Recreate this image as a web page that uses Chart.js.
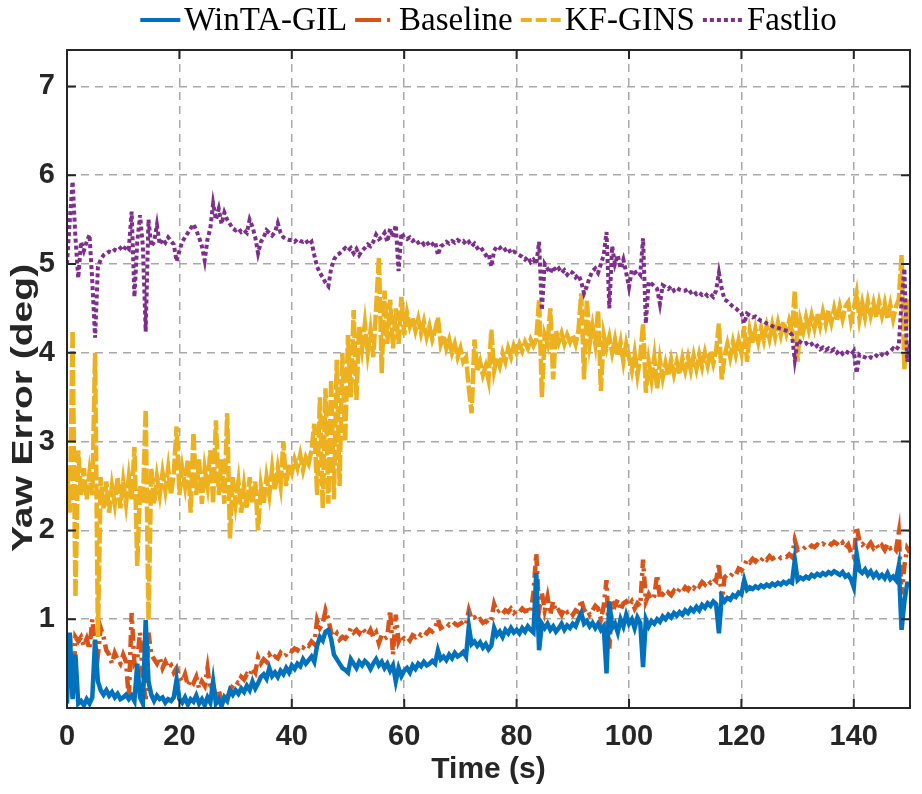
<!DOCTYPE html>
<html>
<head>
<meta charset="utf-8">
<script src="https://cdn.jsdelivr.net/npm/chart.js@4.4.1/dist/chart.umd.min.js"></script>
<style>
  html, body { margin: 0; background: #fff; }
</style>
</head>
<body>
<canvas id="chartYaw" width="922" height="794"></canvas>
<script>
// sampled every 0.5 s, from 0 to 150 s
var sampleStep = 0.5;

var wintaGil = [
  0.05,0.85,0.1,0.6,0.05,0.08,0.03,0.1,0.05,0.12, 0.77,0.3,0.2,0.15,0.2,0.14,0.18,0.12,0.16,0.1,
  0.12,0.15,0.1,0.14,0.08,0.5,0.12,0.05,0.99,0.3, 0.15,0.08,0.14,0.1,0.12,0.06,0.1,0.08,0.12,0.32,
  0.1,0.06,0.12,0.04,0.1,0.07,0.14,0.05,0.1,0.03, 0.12,0.06,0.3,0.05,0.1,0.02,0.12,0.08,0.2,0.15,
  0.2,0.16,0.22,0.18,0.25,0.2,0.3,0.22,0.28,0.35, 0.38,0.33,0.45,0.36,0.4,0.35,0.42,0.38,0.45,0.4,
  0.48,0.44,0.5,0.47,0.55,0.5,0.54,0.58,0.52,0.7, 0.8,0.76,0.86,0.88,0.78,0.6,0.55,0.5,0.45,0.43,
  0.4,0.55,0.5,0.45,0.52,0.48,0.53,0.5,0.44,0.5, 0.55,0.48,0.52,0.45,0.5,0.42,0.48,0.3,0.45,0.36,
  0.42,0.45,0.4,0.48,0.44,0.5,0.47,0.52,0.48,0.5, 0.53,0.5,0.65,0.55,0.58,0.54,0.6,0.56,0.62,0.58,
  0.6,0.63,0.58,0.92,0.72,0.75,0.7,0.74,0.68,0.72, 0.66,0.7,0.9,0.82,0.86,0.8,0.88,0.84,0.9,0.85,
  0.88,0.84,0.9,0.86,0.92,0.88,0.85,1.52,0.65,0.95, 0.9,0.95,0.88,0.92,0.86,0.9,0.95,0.88,0.93,0.9,
  0.95,0.92,1.0,1.07,0.95,0.98,0.92,0.96,0.9,0.95, 0.88,0.92,0.39,1.2,0.9,0.95,0.85,1.0,0.92,1.05,
  0.95,1.0,0.9,1.02,0.96,0.46,1.0,0.92,0.98,0.95, 1.0,0.97,1.03,1.0,1.05,1.02,1.07,1.04,1.08,1.05,
  1.1,1.07,1.12,1.09,1.14,1.1,1.16,1.13,1.18,1.15, 1.2,1.17,0.84,1.25,1.2,1.24,1.22,1.27,1.25,1.3,
  1.28,1.44,1.33,1.36,1.34,1.37,1.35,1.38,1.36,1.39, 1.37,1.4,1.38,1.41,1.39,1.42,1.4,1.43,1.41,1.67,
  1.44,1.47,1.45,1.48,1.46,1.5,1.48,1.51,1.49,1.52, 1.5,1.53,1.51,1.54,1.52,1.5,1.53,1.48,1.5,1.45,
  1.36,1.74,1.55,1.52,1.56,1.5,1.54,1.48,1.52,1.47, 1.5,1.46,1.52,1.45,1.48,1.44,1.6,0.88,1.2,1.4,
  1.4
];

var baseline = [
  0.6,0.85,0.1,0.8,0.75,0.8,0.7,0.78,0.66,1.0, 0.7,0.6,0.9,0.8,0.65,0.6,0.5,0.62,0.55,0.5,
  0.6,0.52,0.1,1.07,0.5,0.55,0.85,0.3,0.1,0.85, 0.6,0.55,0.5,0.57,0.45,0.52,0.45,0.48,0.4,0.45,
  0.35,0.3,0.38,0.25,0.32,0.28,0.35,0.22,0.3,0.25, 0.45,0.2,0.25,0.12,0.2,0.08,0.15,0.1,0.2,0.25,
  0.3,0.28,0.35,0.32,0.38,0.36,0.45,0.4,0.57,0.5, 0.55,0.52,0.6,0.55,0.58,0.56,0.62,0.58,0.6,0.65,
  0.64,0.67,0.65,0.7,0.68,0.72,0.7,0.75,0.72,0.99, 0.9,0.95,1.1,1.0,0.85,0.8,0.84,0.77,0.8,0.78,
  0.82,0.9,0.85,0.88,0.84,0.9,0.86,0.82,0.88,0.8, 0.85,0.73,0.82,0.78,0.8,1.1,0.6,1.05,0.75,0.82,
  0.78,0.8,0.76,0.82,0.8,0.84,0.82,0.86,0.84,0.88, 0.86,0.9,1.0,0.9,0.92,0.9,0.94,0.92,0.95,0.93,
  0.95,0.97,0.94,1.1,1.0,1.02,0.98,1.0,0.96,0.98, 0.95,1.0,1.17,1.08,1.1,1.06,1.1,1.08,1.12,1.07,
  1.1,1.08,1.12,1.09,1.1,1.07,1.3,1.74,1.1,1.3, 1.1,1.25,1.05,1.2,1.08,1.1,1.05,1.12,1.08,1.1,
  1.05,1.1,1.08,1.22,1.1,1.12,1.05,1.1,1.15,1.12, 1.0,1.15,1.44,0.67,1.2,1.15,1.22,1.1,1.18,1.2,
  1.15,1.2,1.12,1.18,1.15,1.67,1.2,1.28,1.22,1.26, 1.5,1.24,1.28,1.25,1.3,1.27,1.32,1.29,1.34,1.31,
  1.36,1.33,1.38,1.35,1.4,1.37,1.42,1.39,1.44,1.41, 1.46,1.43,1.63,1.2,1.47,1.5,1.48,1.52,1.5,1.57,
  1.55,1.6,1.67,1.64,1.68,1.65,1.69,1.66,1.7,1.67, 1.71,1.68,1.7,1.72,1.69,1.71,1.7,1.73,1.7,1.89,
  1.78,1.8,1.79,1.82,1.8,1.83,1.81,1.84,1.82,1.85, 1.83,1.86,1.84,1.87,1.85,1.82,1.86,1.8,1.84,1.75,
  1.7,2.04,1.88,1.84,1.87,1.82,1.86,1.8,1.84,1.79, 1.83,1.78,1.85,1.8,1.82,1.78,1.97,1.28,1.6,1.8,
  1.75
];

var kfGins = [
  2.7,2.2,4.25,1.25,2.9,2.4,2.7,2.35,2.65,2.4, 4.0,0.8,2.6,2.25,2.55,2.2,2.5,2.3,2.6,2.25,
  2.55,2.3,2.6,2.35,2.94,1.6,2.5,2.3,3.36,0.99, 2.7,2.3,2.6,2.4,2.65,2.45,2.7,2.4,2.65,3.17,
  2.4,2.7,2.5,2.8,2.2,3.1,2.4,2.8,2.3,2.7, 2.5,2.9,2.3,3.24,2.4,2.8,2.3,3.32,1.91,2.6,
  2.3,2.55,2.2,2.5,2.25,2.6,2.3,2.55,2.0,2.5, 2.3,2.6,2.4,2.7,2.45,2.7,2.5,3.0,2.5,2.75,
  2.65,2.8,2.7,2.85,2.68,2.82,2.75,2.9,3.2,2.4, 3.5,2.25,3.6,2.3,3.7,2.35,3.92,2.5,4.0,3.0,
  4.2,3.5,4.48,3.47,4.3,4.05,4.33,4.0,4.25,3.95, 4.5,5.08,3.77,4.7,4.1,4.6,4.05,4.5,4.1,4.63,
  4.2,4.45,4.3,4.4,4.25,4.38,4.22,4.35,4.18,4.3, 4.15,4.25,4.4,4.1,4.2,4.05,4.15,4.0,4.1,3.95,
  4.05,3.9,3.95,3.6,3.32,4.15,3.8,3.9,3.75,3.85, 3.7,4.26,3.8,3.95,3.85,4.0,3.9,4.05,3.95,4.08,
  4.0,4.1,4.02,4.12,4.05,4.15,4.08,4.15,4.6,3.5, 4.2,4.1,4.5,3.7,4.25,4.12,4.22,4.1,4.2,4.12,
  4.2,4.1,4.25,4.67,3.7,4.6,4.1,4.3,4.1,4.48, 3.57,4.2,4.05,4.18,4.0,4.15,3.96,4.12,3.9,4.1,
  3.95,3.8,4.0,3.75,3.95,4.33,3.55,3.9,3.7,3.95, 3.6,3.92,3.72,3.88,3.74,3.92,3.76,3.9,3.76,3.94,
  3.8,3.95,3.8,3.97,3.82,3.98,3.84,4.0,3.86,4.02, 3.88,4.02,4.33,3.7,3.96,4.1,3.95,4.12,3.98,4.14,
  4.0,4.3,3.9,4.25,4.1,4.27,4.12,4.28,4.14,4.3, 4.16,4.32,4.18,4.34,4.2,4.35,4.22,4.36,4.24,4.7,
  3.9,4.36,4.24,4.4,4.26,4.42,4.28,4.44,4.3,4.46, 4.32,4.48,4.34,4.5,4.36,4.52,4.38,4.52,4.57,4.36,
  4.5,4.67,4.38,4.56,4.4,4.58,4.42,4.56,4.4,4.57, 4.42,4.56,4.38,4.54,4.38,4.52,4.6,5.1,3.8,4.6,
  4.3
];

var fastlio = [
  5.0,5.5,5.93,5.3,4.84,5.25,5.15,5.25,5.33,4.8, 4.17,4.97,5.05,5.1,5.12,5.14,5.13,5.16,5.15,5.18,
  5.15,5.2,5.17,5.59,4.63,5.25,5.55,5.2,4.24,5.5, 5.2,5.25,5.44,5.22,5.28,5.24,5.3,5.26,5.22,5.03,
  5.15,5.25,5.3,5.35,5.4,5.45,5.38,5.3,5.2,5.04, 5.28,5.4,5.68,5.5,5.62,5.45,5.58,5.5,5.45,5.4,
  5.38,5.4,5.36,5.38,5.35,5.5,5.42,5.3,5.12,5.25, 5.3,5.38,5.35,5.32,5.36,5.46,5.35,5.3,5.28,5.27,
  5.27,5.25,5.28,5.26,5.25,5.27,5.22,5.25,5.1,4.97, 4.9,4.85,4.79,4.75,4.95,5.05,5.1,5.12,5.15,5.18,
  5.15,5.18,5.12,5.17,5.1,5.15,5.18,5.22,5.2,5.25, 5.33,5.28,5.3,5.35,5.25,5.4,5.3,5.44,4.92,5.35,
  5.3,5.28,5.3,5.26,5.28,5.24,5.26,5.22,5.25,5.2, 5.22,5.25,5.1,5.2,5.22,5.25,5.23,5.26,5.24,5.27,
  5.25,5.26,5.22,5.25,5.2,5.23,5.18,5.2,5.15,5.1, 5.12,4.97,5.15,5.2,5.18,5.2,5.16,5.18,5.12,5.14,
  5.12,5.1,5.08,5.05,5.08,5.02,5.05,5.0,5.25,4.48, 5.0,4.95,4.9,4.97,4.92,4.95,4.9,4.93,4.88,4.92,
  4.9,4.85,4.88,4.8,4.67,4.75,4.85,4.92,4.95,4.9, 5.0,5.1,5.36,4.5,5.2,5.0,5.1,4.95,5.05,4.9,
  4.74,4.93,4.9,4.92,4.88,5.29,4.33,4.8,4.78,4.75, 4.72,4.55,4.76,4.74,4.72,4.75,4.7,4.73,4.71,4.7,
  4.7,4.72,4.68,4.7,4.66,4.68,4.65,4.67,4.64,4.66, 4.63,4.7,4.9,4.72,4.6,4.58,4.55,4.52,4.5,4.47,
  4.45,4.33,4.44,4.42,4.4,4.41,4.38,4.36,4.35,4.33, 4.32,4.3,4.29,4.28,4.27,4.26,4.25,4.24,4.2,3.92,
  4.14,4.12,4.1,4.11,4.08,4.1,4.06,4.08,4.04,4.06, 4.03,4.05,4.02,4.04,4.0,4.03,3.99,4.02,4.0,3.98,
  4.02,3.77,3.98,3.96,3.95,3.93,3.95,3.94,3.97,3.95, 3.98,3.96,4.0,4.02,4.05,4.03,4.08,4.57,4.95,3.9,
  4.1
];

var seriesNames = ['WinTA-GIL', 'Baseline', 'KF-GINS', 'Fastlio'];
var xTicks = [0, 20, 40, 60, 80, 100, 120, 140];
var yTicks = [1, 2, 3, 4, 5, 6, 7];
var yTitle = 'Yaw Error (deg)';

var time = wintaGil.map(function(_, i) { return i * sampleStep; });

var tickFont = { family: '"Liberation Sans", Arial, sans-serif', size: 29, weight: 'bold' };
var titleFont = { family: '"Liberation Sans", Arial, sans-serif', size: 30, weight: 'bold' };
var inkColor = '#262626';
var gridColor = '#a9a9a9';

// legend, y title and the box with inward ticks, matlab style
var matlabFrame = {
    id: 'matlabFrame',
    afterDatasetsDraw: function(chart) {
        var ctx = chart.ctx, a = chart.chartArea;
        var sx = chart.scales.x, sy = chart.scales.y;
        ctx.save();
        ctx.strokeStyle = inkColor;
        ctx.lineWidth = 2;
        ctx.setLineDash([]);
        ctx.strokeRect(a.left, a.top, a.right - a.left, a.bottom - a.top);
        ctx.beginPath();
        xTicks.forEach(function(v) {
            var px = sx.getPixelForValue(v);
            ctx.moveTo(px, a.bottom); ctx.lineTo(px, a.bottom - 9);
            ctx.moveTo(px, a.top); ctx.lineTo(px, a.top + 9);
        });
        yTicks.forEach(function(v) {
            var py = sy.getPixelForValue(v);
            ctx.moveTo(a.left, py); ctx.lineTo(a.left + 9, py);
            ctx.moveTo(a.right, py); ctx.lineTo(a.right - 9, py);
        });
        ctx.stroke();
        ctx.restore();
    },
    afterDraw: function(chart) {
        var ctx = chart.ctx, a = chart.chartArea;
        var sampleW = 40, gap = 4, spacing = 8;
        ctx.save();
        ctx.font = '33px "Liberation Serif", "Times New Roman", serif';
        ctx.textBaseline = 'middle';
        var items = chart.data.datasets.map(function(ds) {
            return { ds: ds, w: sampleW + gap + ctx.measureText(ds.label).width };
        });
        var total = items.reduce(function(s, it) { return s + it.w; }, 0) + spacing * (items.length - 1);
        var x = (a.left + a.right) / 2 - total / 2;
        var y = 20;
        items.forEach(function(it) {
            ctx.strokeStyle = it.ds.borderColor;
            ctx.lineWidth = 4;
            ctx.setLineDash(it.ds.legendDash);
            ctx.beginPath();
            ctx.moveTo(x, y);
            ctx.lineTo(x + sampleW, y);
            ctx.stroke();
            ctx.setLineDash([]);
            ctx.fillStyle = '#000';
            ctx.fillText(it.ds.label, x + sampleW + gap, y + 1);
            x += it.w + spacing;
        });
        ctx.restore();

        // y title is drawn stretched along its length like in the source figure
        ctx.save();
        ctx.translate(24, 408);
        ctx.rotate(-Math.PI / 2);
        ctx.scale(1.3, 1);
        ctx.font = 'bold 30px "Liberation Sans", Arial, sans-serif';
        ctx.fillStyle = inkColor;
        ctx.textAlign = 'center';
        ctx.textBaseline = 'middle';
        ctx.fillText(yTitle, 0, 0);
        ctx.restore();
    }
};

var ctxChartYaw = document.getElementById('chartYaw');
var chartYaw = new Chart(ctxChartYaw, {
    type: 'line',
    data: {
        labels: time,
        datasets: [
            {
                label: seriesNames[0],
                data: wintaGil,
                borderColor: '#0072BD',
                borderWidth: 4.5,
                legendDash: [],
                order: 2
            },
            {
                label: seriesNames[1],
                data: baseline,
                borderColor: '#D95319',
                borderWidth: 4.5,
                borderDash: [12, 5, 3, 5],
                legendDash: [26, 6, 3, 40],
                order: 3
            },
            {
                label: seriesNames[2],
                data: kfGins,
                borderColor: '#EDB120',
                borderWidth: 4.5,
                borderDash: [16, 3],
                legendDash: [11, 4],
                order: 1
            },
            {
                label: seriesNames[3],
                data: fastlio,
                borderColor: '#7E2F8E',
                borderWidth: 4,
                borderDash: [4, 3],
                legendDash: [4, 3],
                order: 0
            }
        ]
    },
    options: {
        responsive: false,
        animation: false,
        layout: { padding: { top: 50, right: 12, left: 0, bottom: 0 } },
        elements: {
            point: { radius: 0 },
            line: { tension: 0, borderCapStyle: 'butt', borderJoinStyle: 'miter' }
        },
        plugins: {
            legend: { display: false },
            tooltip: { enabled: false }
        },
        scales: {
            x: {
                type: 'linear',
                min: 0,
                max: 150,
                afterFit: function(s) { s.height = 86; },
                afterBuildTicks: function(s) { s.ticks = xTicks.map(function(v) { return { value: v }; }); },
                ticks: { font: tickFont, color: inkColor, padding: 12, maxRotation: 0 },
                grid: { color: gridColor, lineWidth: 1.5, drawTicks: false },
                border: { display: false, dash: [8, 6] },
                title: { display: true, text: 'Time (s)', font: titleFont, color: inkColor, padding: { top: 6, bottom: 6 } }
            },
            y: {
                min: 0,
                max: 7.41,
                afterFit: function(s) { s.width = 67; },
                afterBuildTicks: function(s) { s.ticks = yTicks.map(function(v) { return { value: v }; }); },
                ticks: { font: tickFont, color: inkColor, padding: 12 },
                grid: { color: gridColor, lineWidth: 1.5, drawTicks: false },
                border: { display: false, dash: [8, 6] },
                title: { display: false }
            }
        }
    },
    plugins: [matlabFrame]
});
</script>
</body>
</html>
